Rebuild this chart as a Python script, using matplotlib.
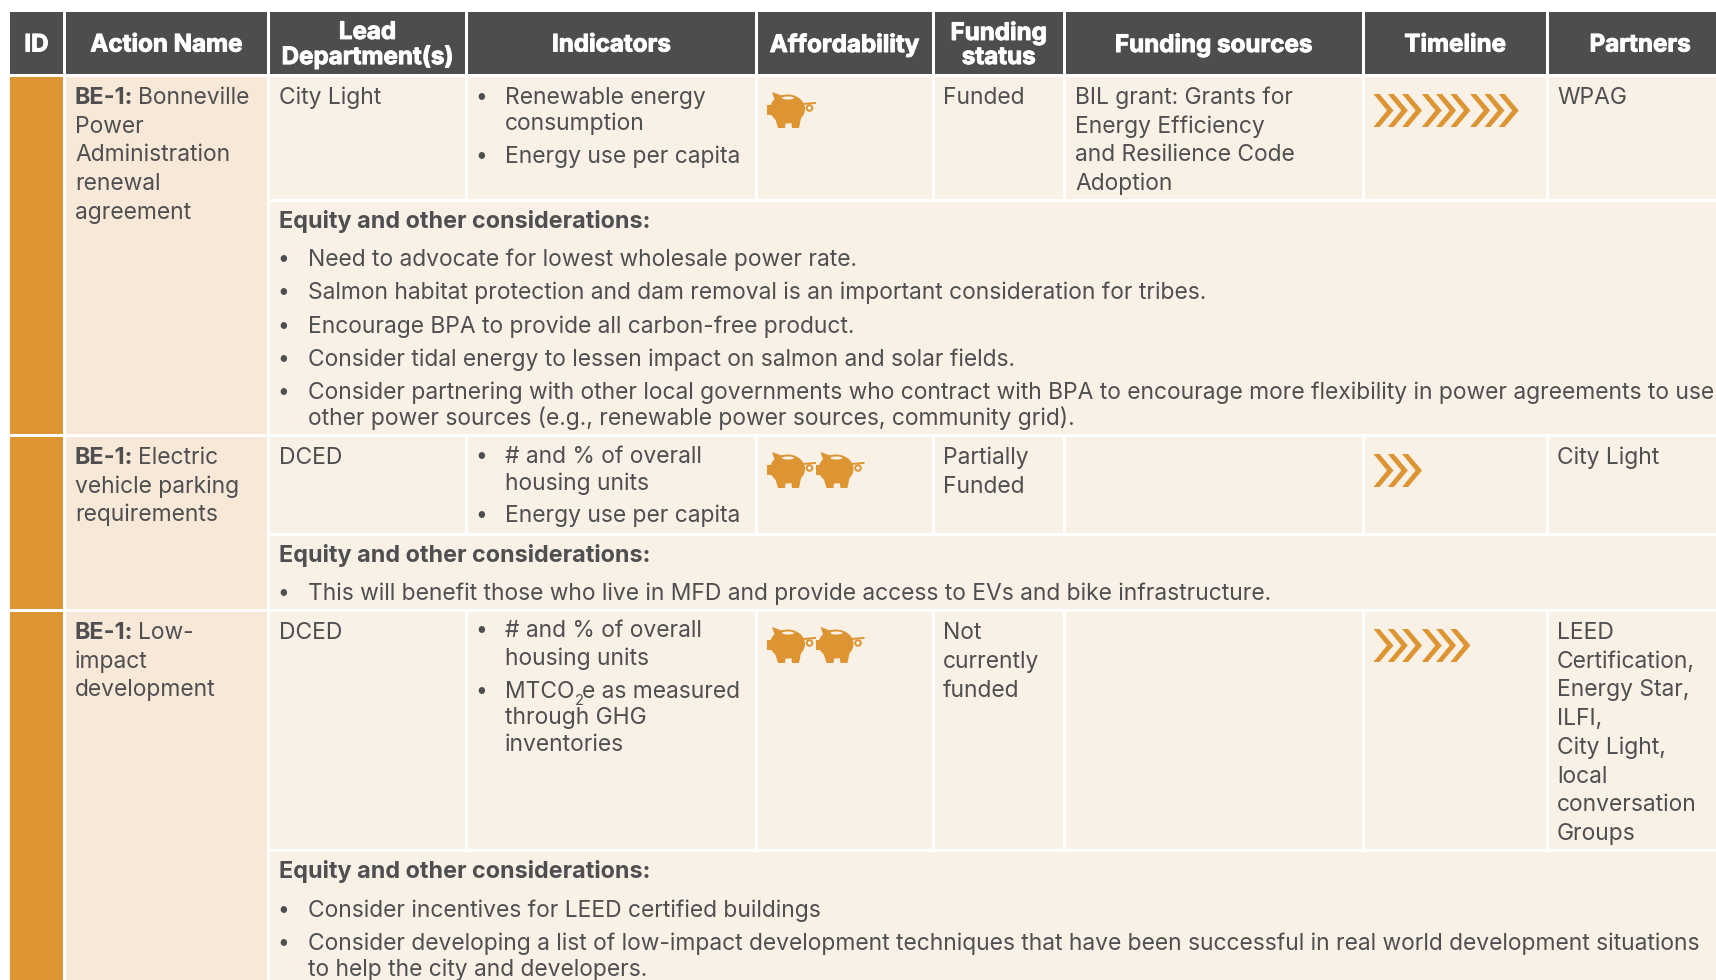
#!/usr/bin/env python3

import matplotlib
matplotlib.use("Agg")
import matplotlib.pyplot as plt
import matplotlib.patheffects as pe
from matplotlib.patches import Rectangle, Polygon, Ellipse, Circle

W, H = 1716, 980

DARK = "#4d4d4d"
BODY = "#f9f0e6"
ACTION = "#f8e8d7"
ORANGE = "#dd9533"
TEXT = "#4f4f51"

plt.rcParams["font.family"] = ["Inter", "DejaVu Sans"]
FS = 16.45
FS_BOLD = 16.85
FS_HEAD = 17.4

HEADERS = ["ID", "Action Name", "Lead\nDepartment(s)", "Indicators", "Affordability",
           "Funding\nstatus", "Funding sources", "Timeline", "Partners"]
COL_LEFT = [10, 66, 270, 468, 757.5, 934.5, 1066, 1364.7, 1549]
COL_RIGHT = [63, 267, 465, 755, 931.7, 1063, 1361.5, 1545.7, 1731]

ROW_TOP = [77, 437, 612]
ROW_SPLIT = [199, 533, 849]
ROW_BOTTOM = [434, 609, 985]

ACTION_BOLD = "BE-1:"
ACTION_FIRST = ["Bonneville", "Electric", "Low-"]
ACTION_REST = [["Power", "Administration", "renewal", "agreement"],
               ["vehicle parking", "requirements"],
               ["impact", "development"]]
LEAD = ["City Light", "DCED", "DCED"]

INDICATORS = [[("Renewable energy", True, 104), ("consumption", False, 130), ("Energy use per capita", True, 163)],
              [("# and % of overall", True, 463), ("housing units", False, 490), ("Energy use per capita", True, 522)],
              [("# and % of overall", True, 637), ("housing units", False, 665), ("MTCO2e as measured", True, 698),
               ("through GHG", False, 724), ("inventories", False, 751)]]

PIGS = [1, 2, 2]
STATUS = [["Funded"], ["Partially", "Funded"], ["Not", "currently", "funded"]]
SOURCES = [["BIL grant: Grants for", "Energy Efficiency", "and Resilience Code", "Adoption"], [], []]
CHEVRONS = [9, 3, 6]
PARTNERS = [["WPAG"], ["City Light"],
            ["LEED", "Certification,", "Energy Star,", "ILFI,", "City Light,", "local",
             "conversation", "Groups"]]

EQUITY_HEAD = "Equity and other considerations:"
EQUITY_Y = [228, 562, 878]
EQUITY = [[("Need to advocate for lowest wholesale power rate.", True, 266),
           ("Salmon habitat protection and dam removal is an important consideration for tribes.", True, 299),
           ("Encourage BPA to provide all carbon-free product.", True, 333),
           ("Consider tidal energy to lessen impact on salmon and solar fields.", True, 366),
           ("Consider partnering with other local governments who contract with BPA to encourage more flexibility in power agreements to use", True, 399),
           ("other power sources (e.g., renewable power sources, community grid).", False, 425)],
          [("This will benefit those who live in MFD and provide access to EVs and bike infrastructure.", True, 600)],
          [("Consider incentives for LEED certified buildings", True, 917),
           ("Consider developing a list of low-impact development techniques that have been successful in real world development situations", True, 950),
           ("to help the city and developers.", False, 976)]]

fig = plt.figure(figsize=(W / 100, H / 100), dpi=100, facecolor="white")
ax = fig.add_axes([0, 0, 1, 1])
ax.set_xlim(0, W)
ax.set_ylim(H, 0)
ax.axis("off")
renderer = fig.canvas.get_renderer()


def box(x0, y0, x1, y1, color):
    ax.add_patch(Rectangle((x0, y0), x1 - x0, y1 - y0, facecolor=color, edgecolor="none"))


def label(x, y, s, bold=False, **kw):
    return ax.text(x, y, s, fontsize=FS_BOLD if bold else FS, color=TEXT, va="baseline",
                   fontweight="bold" if bold else "normal", **kw)


def bullet_mark(x, y):
    ax.text(x, y - 1, "•", fontsize=15, color=TEXT, va="baseline")


def co2_label(x, y, s):
    # the subscript sits low in the reference, mathtext will not go that far down
    head, tail = s.split("2", 1)
    w = label(x, y, head).get_window_extent(renderer).width
    ax.text(x + w, y + 7, "2", fontsize=10.5, color=TEXT, va="baseline")
    label(x + w + 8, y, tail)


def pig(x, y):
    # x, y is the top left of the icon
    ax.add_patch(Ellipse((x + 20.5, y + 17), 35, 29, facecolor=ORANGE, edgecolor="none"))
    ax.add_patch(Polygon([(x + 5, y + 0), (x + 16, y + 4), (x + 9, y + 12)], facecolor=ORANGE, edgecolor="none"))
    ax.add_patch(Rectangle((x + 0, y + 13), 6, 10, facecolor=ORANGE, edgecolor="none"))
    ax.add_patch(Polygon([(x + 8, y + 26), (x + 19, y + 28), (x + 18, y + 36), (x + 11, y + 36)],
                         facecolor=ORANGE, edgecolor="none"))
    ax.add_patch(Polygon([(x + 24, y + 28), (x + 34, y + 26), (x + 32, y + 36), (x + 25, y + 36)],
                         facecolor=ORANGE, edgecolor="none"))
    ax.add_patch(Ellipse((x + 21, y + 6), 12, 3, facecolor=BODY, edgecolor="none"))
    ax.plot([x + 36, x + 48], [y + 12, y + 11], color=ORANGE, lw=1.4)
    ax.add_patch(Circle((x + 42.5, y + 16), 2.8, facecolor="none", edgecolor=ORANGE, lw=1.4))


def chevrons(x, y, n):
    for i in range(n):
        x0 = x + i * 14.3 + (i // 3) * 5.4
        ax.add_patch(Polygon([(x0, y), (x0 + 6, y), (x0 + 20, y + 16.5), (x0 + 6, y + 33),
                              (x0, y + 33), (x0 + 13.5, y + 16.5)],
                             facecolor=ORANGE, edgecolor="none"))


for s, x0, x1 in zip(HEADERS, COL_LEFT, COL_RIGHT):
    box(x0, 12, x1, 74, DARK)
    ax.text((x0 + x1) / 2, 45.5, s, color="white", fontsize=FS_HEAD, fontweight="bold",
            ha="center", va="center", linespacing=1.12,
            path_effects=[pe.withStroke(linewidth=0.7, foreground="white")])

for r in range(3):
    top, split, bottom = ROW_TOP[r], ROW_SPLIT[r], ROW_BOTTOM[r]
    box(COL_LEFT[0], top, COL_RIGHT[0], bottom, ORANGE)
    box(COL_LEFT[1], top, COL_RIGHT[1], bottom, ACTION)
    for c in range(2, 9):
        box(COL_LEFT[c], top, COL_RIGHT[c], split, BODY)
    box(COL_LEFT[2], split + 3, W, bottom, BODY)

    base = top + 27
    t = label(75, base, ACTION_BOLD, bold=True)
    w = t.get_window_extent(renderer).width
    label(75 + w + 5, base, ACTION_FIRST[r])
    for i, s in enumerate(ACTION_REST[r]):
        label(75, base + 28.7 * (i + 1), s)

    label(279, base, LEAD[r])

    for s, bullet, y in INDICATORS[r]:
        if bullet:
            bullet_mark(475, y)
        if s.startswith("MTCO"):
            co2_label(505, y, s)
        else:
            label(505, y, s)

    for i in range(PIGS[r]):
        pig(767 + 48.5 * i, top + 15)

    for i, s in enumerate(STATUS[r]):
        label(943, base + 28.9 * i, s)
    for i, s in enumerate(SOURCES[r]):
        label(1075, base + 28.7 * i, s)

    chevrons(1373.5, top + 17, CHEVRONS[r])

    for i, s in enumerate(PARTNERS[r]):
        label(1557, base + 28.7 * i, s)

    label(279, EQUITY_Y[r], EQUITY_HEAD, bold=True)
    for s, bullet, y in EQUITY[r]:
        if bullet:
            bullet_mark(277, y)
        label(307.5, y, s)

fig.savefig("out.png", dpi=100, facecolor="white")
plt.close(fig)
